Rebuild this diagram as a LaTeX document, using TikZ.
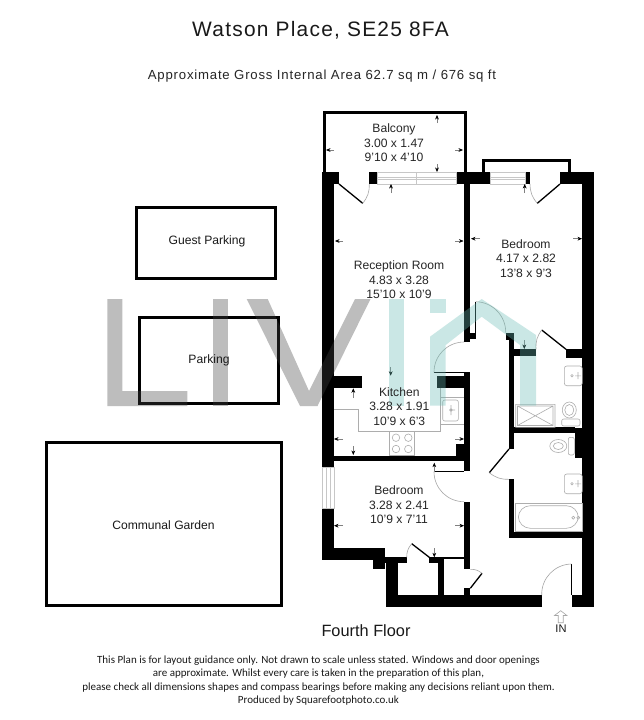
\documentclass[tikz,border=0pt]{standalone}
\usepackage{fontspec}
\setmainfont{Liberation Sans}
\newfontfamily\footfont{Carlito}
\usetikzlibrary{arrows.meta, positioning, calc}

\begin{document}
\begin{tikzpicture}[
  x=0.02cm, y=-0.02cm,
  wall/.style={fill=black},
  frame/.style={draw=black, line width=0.06cm},
  leaf/.style={draw=black, line width=0.026cm},
  swing/.style={draw=black!35, line width=0.012cm},
  fitting/.style={draw=black!32, line width=0.012cm},
  glazing/.style={draw=black!22, line width=0.014cm},
  dim/.style={draw=black!50, line width=0.01cm, -{Stealth[length=0.09cm, width=0.075cm, black]}},
  room/.style={font=\fontsize{6.9}{8.25}\selectfont, align=center, text=black!85},
  outside/.style={font=\fontsize{6.9}{8.25}\selectfont, text=black!90},
  footline/.style={font=\footfont\fontsize{6.26}{7.6}\selectfont, align=center, text=black!90},
]
  \useasboundingbox (0,0) rectangle (643,720);
  \fill[white] (0,0) rectangle (643,720);

  % Balconies
  \draw[frame] (324,172) -- (324,112.5) -- (465.5,112.5) -- (465.5,172);
  \draw[frame] (483.3,172) -- (483.3,160) -- (569.3,160) -- (569.3,172);

  % Outside areas
  \draw[frame] (136,207.5) rectangle (275,278.5);
  \draw[frame] (139.5,317.5) rectangle (278,403);
  \draw[frame] (46,442) rectangle (281,605);

  % Walls
  \foreach \xa/\ya/\xb/\yb in {
    322/172.3/339/184, 322/172.3/334/467, 322/508/334/560, 322/548.3/373.3/560,
    373.3/548.3/385.3/569.3, 385.3/557.3/406.7/563.3, 386/557.3/398.3/606.7,
    429.3/557.3/444.3/563.3, 438.3/557.3/444.3/595, 444.3/557.3/464/559.3,
    464/501.7/470.3/569.3, 464/588.3/470.3/595, 386/595/541.7/606.7,
    571.7/595/594.3/606.7, 582.3/172.3/594.3/606.7, 560/172.3/594.3/184,
    369.3/172.3/377.3/184, 456/172.3/490/184, 525/172.3/530/184,
    464/172.3/470.3/341.7, 470/332.7/475.7/339, 505.7/332.7/514/340,
    509/332.7/514.3/449, 513.3/349.3/536/355.7, 566/349.3/582.3/358,
    509/427.3/575/433.3, 575/428/582.3/458, 509/479.3/514.3/538.3,
    509/532.3/582.3/538.3, 334/375.7/361.7/388.3, 436.7/375.7/464/388.3,
    464/372.3/470.3/471, 334/455.7/464/461.3, 456/444/464/455.7} {
    \fill[wall] (\xa,\ya) rectangle (\xb,\yb);
  }

  % Doors: hinge, leaf tip, end of swing, bend of swing
  \foreach \hx/\hy/\ax/\ay/\bx/\by/\bnd in {
    339/184/362.7/203.3/369.3/184/-20, 560/184/537.3/203.3/530/184/20,
    475.7/332.7/475.7/301.7/505.7/332.7/45, 566/349.3/541.7/330/536/349.3/-20,
    464/372.3/434/372.3/464/342/45, 509/449/489.3/472.7/509/479.3/-20,
    464/471.7/434/471.7/464/501.7/-45, 429.3/557.3/411.7/543.7/406.7/557.3/-20,
    470.3/588.3/482/573.3/470.3/569.3/-20, 571.3/595/571.3/564/541.7/595/-45} {
    \draw[leaf] (\hx,\hy) -- (\ax,\ay);
    \draw[swing] (\ax,\ay) to[bend left=\bnd] (\bx,\by);
  }

  % Windows
  \draw[glazing] (377.3,172.3) rectangle (456,184) (377.3,177.3) -- (456,177.3)
    (377.3,179.8) -- (456,179.8) (416.7,172.3) -- (416.7,184);
  \draw[glazing] (490,172.3) rectangle (525,184) (490,177.3) -- (525,177.3) (490,179.8) -- (525,179.8);
  \draw[glazing] (322,467) rectangle (334,508) (326,467) -- (326,508) (330,467) -- (330,508);

  % Kitchen fittings
  \draw[fitting] (334,409.3) -- (358.7,409.3) -- (358.7,431.3) -- (440,431.3) -- (440,388.3);
  \draw[fitting] (440,397.3) -- (464,397.3) (440,424.3) -- (464,424.3);
  \draw[fitting, rounded corners=0.04cm] (442.7,400) rectangle (458.3,421);
  \draw[fitting] (389,431.3) rectangle (414.7,455);
  \foreach \cx in {396,408.3} {
    \foreach \cy in {437.7,449} {
      \draw[fitting] (\cx,\cy) circle (0.075cm);
    }
  }
  \draw[fitting] (451,405) -- (451,415) (451,410) -- (455,410) (451,410) circle (0.03cm);

  % Bathroom fittings
  \foreach \sy in {366,474} {
    \draw[fitting, rounded corners=0.05cm] (564.3,\sy) -- ++(18,0) -- ++(0,19.7) -- ++(-18,0) -- cycle;
    \draw[fitting] (572,\sy+9.8) circle (0.025cm) (575,\sy+9.8) -- (581,\sy+9.8) (578,\sy+6) -- (578,\sy+13);
  }
  \draw[fitting] (515.7,404.3) rectangle (555,427.3) (517.5,406) rectangle (553,425.5)
    (517.5,406) -- (553,425.5) (517.5,425.5) -- (553,406);
  \draw[fitting] (569.3,410) ellipse (0.14cm and 0.16cm) (569.3,410) ellipse (0.09cm and 0.11cm);
  \draw[fitting, rounded corners=0.04cm] (561.7,419) rectangle (580,426);
  \draw[fitting] (558.3,446) ellipse (0.17cm and 0.13cm) (558.3,446) ellipse (0.1cm and 0.07cm);
  \draw[fitting, rounded corners=0.04cm] (568.3,437.3) rectangle (574.3,455);
  \draw[fitting] (515,503.3) rectangle (582.3,531);
  \draw[fitting, rounded corners=0.24cm] (518.3,505.7) -- (578.3,505.7) -- (578.3,528.3) -- (518.3,528.3) -- cycle;
  \draw[fitting] (573.3,517.7) circle (0.03cm) (578.3,517.7) circle (0.03cm);

  % Room dimensions: tail, tip
  \foreach \ax/\ay/\bx/\by in {
    334/150/326/150, 455/150/463/150, 437/123/437/115, 437/164/437/172,
    343/241/335/241, 455/241/463.5/241, 391/193/391/184, 390.7/367/390.7/375.7,
    480/238.7/471/238.7, 573/238.7/582/238.7, 524.7/193/524.7/184, 524.3/340/524.3/349,
    353.3/398/353.3/388.3, 353.3/446/353.3/455, 343/439/334/439, 455/439/464/439,
    434.3/472/434.3/462.7, 434.3/548/434.3/557.3, 343/525.7/334/525.7, 455/525.7/464/525.7} {
    \draw[dim] (\ax,\ay) -- (\bx,\by);
  }

  % Watermark
  \begin{scope}[fill opacity=0.35]
    \fill[black!74] (107.3,299) -- (122.3,299) -- (122.3,391) -- (187.3,391) -- (187.3,406) -- (107.3,406) -- cycle;
    \fill[black!74] (212.7,299) rectangle (228,406);
    \fill[black!74] (246.7,299) -- (267.7,299) -- (309,391) -- (355,299) -- (370.5,299) -- (317.5,406) -- (300,406) -- cycle;
    \definecolor{wmteal}{rgb}{0.41,0.74,0.71}
    \fill[wmteal] (389.3,299) rectangle (404.3,405.7);
    \fill[wmteal] (430,299) rectangle (445.7,313.3);
    \fill[wmteal] (430,405.7) -- (430,336.7) -- (481.7,299) -- (536,335) -- (536,405.7) -- (520,405.7)
      -- (520,345) -- (481.7,316.7) -- (445.7,345) -- (445.7,405.7) -- cycle;
  \end{scope}

  % Titles
  \node[font=\fontsize{11.9}{13}\selectfont\addfontfeature{LetterSpace=6}, text=black!90] (title) at (320.5,30) {Watson Place, SE25 8FA};
  \node[font=\fontsize{7.5}{9}\selectfont\addfontfeature{LetterSpace=6}, text=black!85] (area) at (322,76) {Approximate Gross Internal Area 62.7 sq m / 676 sq ft};

  % Room labels
  \node[room] (balcony) at (394,143) {Balcony\\3.00 x 1.47\\9'10 x 4'10};
  \node[room] (reception) at (399,280) {Reception Room\\4.83 x 3.28\\15'10 x 10'9};
  \node[room] (bedroom1) at (526,258.5) {Bedroom\\4.17 x 2.82\\13'8 x 9'3};
  \node[room] (kitchen) at (399.3,406.5) {Kitchen\\3.28 x 1.91\\10'9 x 6'3};
  \node[room] (bedroom2) at (399,505) {Bedroom\\3.28 x 2.41\\10'9 x 7'11};

  % Outside labels
  \node[outside] (guest) at (207,241) {Guest Parking};
  \node[outside] (parking) at (209,360) {Parking};
  \node[outside] (garden) at (163.5,525) {Communal Garden};

  % Floor and entrance
  \node[font=\fontsize{9.3}{11}\selectfont, text=black!90] (floor) at (366,631) {Fourth Floor};
  \node[font=\fontsize{6.3}{8}\selectfont, text=black!90] (in) at (561,629) {IN};
  \draw[swing] (558.2,622.7) -- (558.2,615.5) -- (554.5,615.5) -- (560.7,610.7) -- (566.9,615.5) -- (563.2,615.5) -- (563.2,622.7) -- cycle;

  % Disclaimer
  \node[footline] (note) at (318.5,680.5) {This Plan is for layout guidance only. Not drawn to scale unless stated. Windows and door openings\\are approximate. Whilst every care is taken in the preparation of this plan,\\please check all dimensions shapes and compass bearings before making any decisions reliant upon them.\\Produced by Squarefootphoto.co.uk};
\end{tikzpicture}
\end{document}
